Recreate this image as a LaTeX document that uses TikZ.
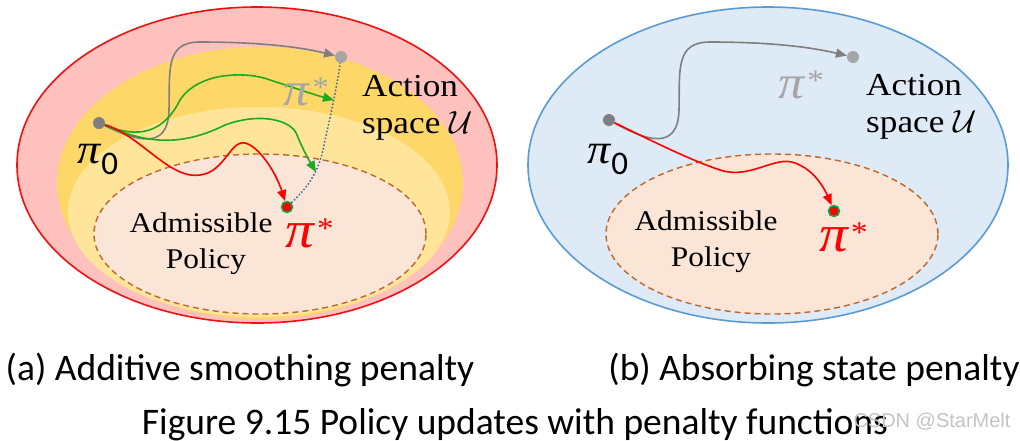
\RequirePackage{fix-cm}
\documentclass[tikz,border=0pt]{standalone}
\usepackage{fontspec}
\usepackage{amsmath}
\usetikzlibrary{positioning, arrows.meta, calc}
\setmainfont{Liberation Serif}[FakeStretch=1.1]
\newfontfamily\capfont{Carlito}
\newfontfamily\markfont{Liberation Sans}
\definecolor{OuterRed}{HTML}{FFC1BE}
\definecolor{RimRed}{HTML}{F01010}
\definecolor{GoldBand}{HTML}{FDD868}
\definecolor{PaleGold}{HTML}{FEE59A}
\definecolor{Peach}{HTML}{FBE5D6}
\definecolor{RustDash}{HTML}{C0662A}
\definecolor{SkyFill}{HTML}{DEEAF6}
\definecolor{SkyRim}{HTML}{5B9BD5}
\definecolor{PathGrey}{HTML}{7F7F7F}
\definecolor{LightGrey}{HTML}{A6A6A6}
\definecolor{MarkGrey}{HTML}{C4C4C4}
\definecolor{PathGreen}{HTML}{1DAA1D}
\definecolor{DotGreen}{HTML}{00B050}
\definecolor{DotBlue}{HTML}{3F64A0}
% pi with a star, pi with a sans zero
\newcommand{\pistar}{\textit{π}\hspace{2pt}\raisebox{0.16em}{\fontsize{30}{30}\selectfont *}}
\newcommand{\pizero}{\textit{π}\raisebox{-11pt}{\capfont\fontsize{33}{33}\selectfont 0}}

\begin{document}
\begin{tikzpicture}[
      x=1pt, y=-1pt,
      start/.style={circle, fill=PathGrey, minimum size=12pt, inner sep=0pt},
      ghost/.style={circle, fill=LightGrey, minimum size=12pt, inner sep=0pt},
      goal/.style={circle, fill=red, draw=DotGreen, line width=1.5pt, minimum size=11pt, inner sep=0pt},
      tip/.style={-{Triangle[length=11pt,width=9pt]}},
      greypath/.style={tip, PathGrey, line width=1.6pt},
      greenpath/.style={tip, PathGreen, line width=1.6pt},
      redpath/.style={tip, red, line width=1.6pt},
      admiss/.style={fill=Peach, draw=RustDash, line width=1.4pt, dash pattern=on 6pt off 4pt},
      actlbl/.style={font=\fontsize{32}{34}\selectfont, anchor=base west, inner sep=0pt},
      admlbl/.style={font=\fontsize{28.5}{30}\selectfont, anchor=base, inner sep=0pt},
      pilbl/.style={font=\fontsize{42}{42}\selectfont, anchor=base west, inner sep=0pt},
      greypi/.style={pilbl, font=\fontsize{47}{47}\selectfont, text=LightGrey},
      redpi/.style={pilbl, font=\fontsize{52}{52}\selectfont, text=red},
      captext/.style={font=\capfont\fontsize{37.5}{40}\selectfont, anchor=base, inner sep=0pt}
  ]
    \useasboundingbox (0,0) rectangle (1020,440);
    \fill[white] (0,0) rectangle (1020,440);

    % (a) additive smoothing penalty
    \draw[fill=OuterRed, draw=RimRed, line width=1.6pt] (257,165) ellipse [x radius=240pt, y radius=158pt];
    \fill[GoldBand] (260,183) ellipse [x radius=203pt, y radius=136pt];
    \fill[PaleGold] (259,212) ellipse [x radius=191pt, y radius=105pt];
    \draw[admiss] (260,234) ellipse [x radius=166pt, y radius=80pt];

    \node[start](p0) at (99,123){};
    \node[ghost](gA) at (341,57){};
    \node[goal](rL) at (287,207){};
    \coordinate (g1) at (334,100);
    \coordinate (g2) at (316,172);

    \draw[greypath] (p0) .. controls (135,140) and (168,152) .. (169,110)
      .. controls (170,70) and (165,42) .. (200,42)
      .. controls (260,42) and (300,47) .. (gA);
    \draw[greenpath] (p0) .. controls (130,135) and (160,140) .. (180,100)
      .. controls (200,70) and (250,72) .. (270,80)
      .. controls (295,88) and (315,95) .. (g1);
    \draw[greenpath] (p0) .. controls (140,140) and (175,150) .. (225,125)
      .. controls (260,112) and (292,120) .. (297,135)
      .. controls (303,150) and (310,162) .. (g2);
    \draw[redpath] (p0) .. controls (140,135) and (170,180) .. (200,175)
      .. controls (225,172) and (230,140) .. (245,143)
      .. controls (258,146) and (275,170) .. (rL);
    \draw[DotBlue, line width=1.5pt, dotted] (rL) .. controls (310,185) and (320,170) .. (325,140)
      .. controls (332,110) and (338,80) .. (gA);

    \node[pilbl](pi0L) at (77,163){\pizero};
    \node[greypi](gpiL) at (283,105){\pistar};
    \node[redpi](rpiL) at (285,247){\pistar};
    \node[actlbl](actL) at (362,96){Action};
    \node[actlbl](spcL) at (362,133){space $\mathcal{U}$};
    \node[admlbl](admL) at (201,232){Admissible};
    \node[admlbl](polL) at (206,268){Policy};

    % (b) absorbing state penalty
    \draw[fill=SkyFill, draw=SkyRim, line width=1.6pt] (768,165) ellipse [x radius=240pt, y radius=158pt];
    \draw[admiss] (772,234) ellipse [x radius=166pt, y radius=80pt];

    \node[start](q0) at (609,120){};
    \node[ghost](gB) at (853,57){};
    \node[goal](rR) at (834,211){};

    \draw[greypath] (q0) .. controls (645,140) and (678,152) .. (679,110)
      .. controls (680,70) and (675,42) .. (710,42)
      .. controls (770,42) and (810,47) .. (gB);
    \draw[redpath] (q0) .. controls (650,140) and (690,160) .. (720,170)
      .. controls (750,180) and (775,155) .. (795,163)
      .. controls (815,170) and (825,190) .. (rR);

    \node[pilbl](pi0R) at (587,163){\pizero};
    \node[greypi](gpiR) at (778,98){\pistar};
    \node[redpi](rpiR) at (819,251){\pistar};
    \node[actlbl](actR) at (866,95){Action};
    \node[actlbl](spcR) at (866,132){space $\mathcal{U}$};
    \node[admlbl](admR) at (706,230){Admissible};
    \node[admlbl](polR) at (711,266){Policy};

    % captions
    \node[captext](capA) at (240,380){(a) Additive smoothing penalty};
    \node[captext](capB) at (814,380){(b) Absorbing state penalty};
    \node[captext](capF) at (515,434){Figure 9.15 Policy updates with penalty functions};
    \node[font=\markfont\fontsize{20}{20}\selectfont, text=MarkGrey, inner sep=0pt](mark) at (932,422){CSDN @StarMelt};
  \end{tikzpicture}
\end{document}
